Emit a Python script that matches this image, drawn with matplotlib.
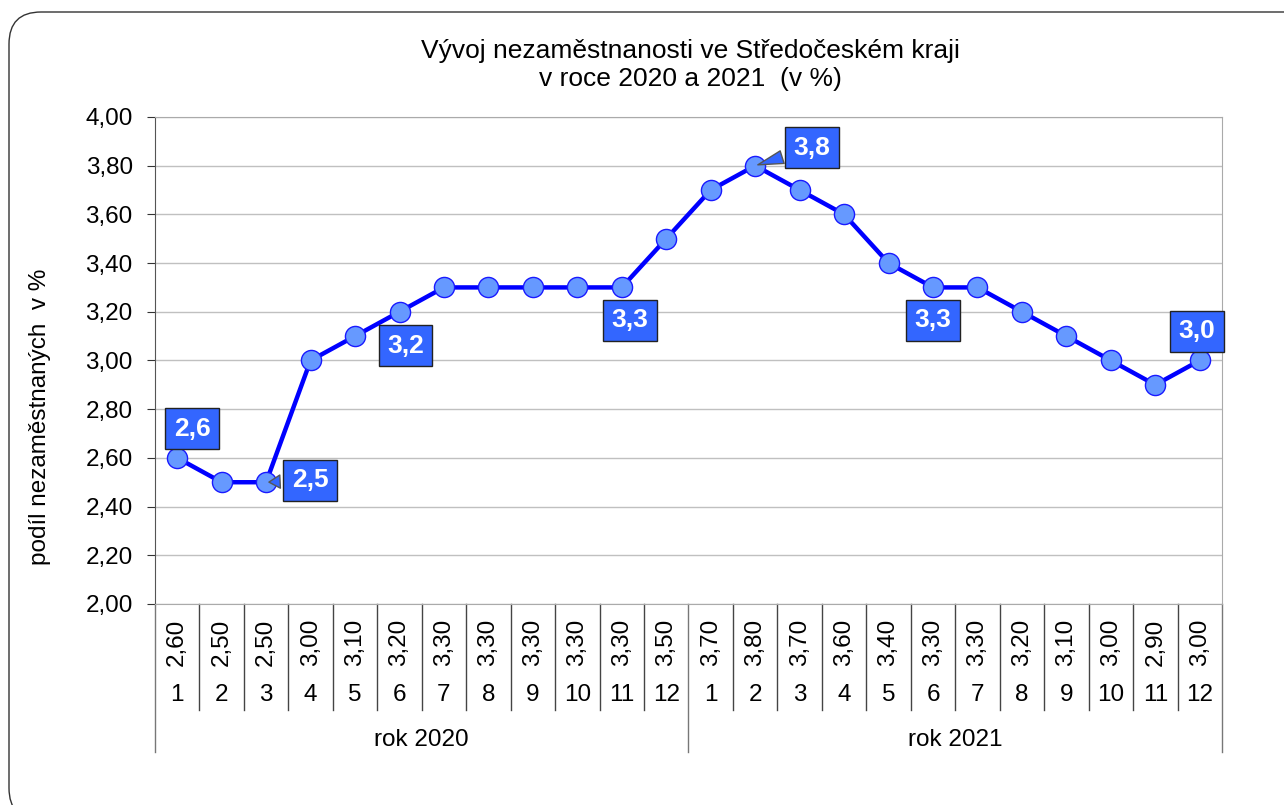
import numpy as np
import matplotlib.pyplot as plt
from matplotlib.patches import FancyBboxPatch

plt.rcParams['font.family'] = ['Liberation Sans', 'DejaVu Sans']

# -------------------- data --------------------
months = [str(m) for m in range(1, 13)] * 2
years = ["rok 2020", "rok 2021"]
values = [2.6, 2.5, 2.5, 3.0, 3.1, 3.2, 3.3, 3.3, 3.3, 3.3, 3.3, 3.5,
          3.7, 3.8, 3.7, 3.6, 3.4, 3.3, 3.3, 3.2, 3.1, 3.0, 2.9, 3.0]
yticks = [2.0, 2.2, 2.4, 2.6, 2.8, 3.0, 3.2, 3.4, 3.6, 3.8, 4.0]
# labelled points: index, offset in pixels (dx, dy), callout leader
labels = [(0, (15, 29), False), (2, (44, 2), True), (5, (6, -34), False),
          (10, (8, -33), False), (13, (57, 18), True), (17, (0, -33), False),
          (23, (-3, 29), False)]

FS = 17.5

def fmt(v, d):
    return f"{v:.{d}f}".replace(".", ",")

fig = plt.figure(figsize=(12.84, 8.05), dpi=100)
ax = fig.add_axes([0.1207, 0.2497, 0.8310, 0.6050])

# outer rounded frame (inches, so corners stay round); runs off right/bottom edge
frame = FancyBboxPatch((0.09, -0.15), 13.2, 8.08, transform=fig.dpi_scale_trans,
                       boxstyle="round,pad=0,rounding_size=0.32",
                       fc="none", ec="#333333", lw=1.0)
fig.add_artist(frame)

x = np.arange(1, len(values) + 1)
ax.plot(x, values, color="#0000FF", lw=3.2, zorder=3,
        marker="o", ms=14.5, mfc="#6699FF", mec="#1a1aff", mew=1.0)

ax.set_xlim(0.5, len(values) + 0.5)
ax.set_ylim(2.0, 4.0)
ax.set_yticks(yticks)
ax.set_yticklabels([fmt(t, 2) for t in yticks], fontsize=FS)
ax.set_xticks([])
ax.grid(axis="y", color="#c0c0c0", lw=1.0)
ax.set_axisbelow(True)
for s in ["top", "right", "bottom"]:
    ax.spines[s].set_color("#aaaaaa")
ax.spines["left"].set_color("#555555")
ax.tick_params(axis="y", length=6, color="#333333", pad=10)

fig.text(40 / 1284, 1 - 417 / 805, "podíl nezaměstnaných  v %", rotation=90,
         ha="center", va="center", fontsize=FS)
fig.text(690 / 1284, 1 - 65 / 805,
         "Vývoj nezaměstnanosti ve Středočeském kraji\nv roce 2020 a 2021  (v %)",
         ha="center", va="center", fontsize=19, linespacing=1.25)

# category table below the axes
tr = ax.get_xaxis_transform()
for i, (m, v) in enumerate(zip(months, values)):
    ax.text(x[i], -0.078, fmt(v, 2), rotation=90, ha="center", va="center",
            fontsize=FS, transform=tr)
    ax.text(x[i], -0.186, m, ha="center", va="center", fontsize=FS, transform=tr)
for b in np.arange(0.5, len(values) + 1, 1):
    big = (b - 0.5) % 12 == 0
    ax.plot([b, b], [0, -0.304 if big else -0.218], color="#444444" if not big else "#777777",
            lw=1.0, transform=tr, clip_on=False)
for k, yr in enumerate(years):
    ax.text(6.5 + 12 * k, -0.279, yr, ha="center", va="center", fontsize=FS, transform=tr)

# data labels
for idx, (dx, dy), leader in labels:
    arrow = None
    if leader:
        arrow = dict(arrowstyle="wedge,tail_width=0.5,shrink_factor=0.5",
                     fc="#3366FF", ec="#555555", lw=1.0)
    ax.annotate(fmt(values[idx], 1), (x[idx], values[idx]), xytext=(dx, dy),
                textcoords="offset pixels", ha="center", va="center",
                color="white", fontsize=19, fontweight="bold", zorder=5,
                bbox=dict(boxstyle="square,pad=0.32", fc="#3366FF", ec="#222222", lw=1.0),
                arrowprops=arrow)

fig.savefig("out.png", dpi=100)
